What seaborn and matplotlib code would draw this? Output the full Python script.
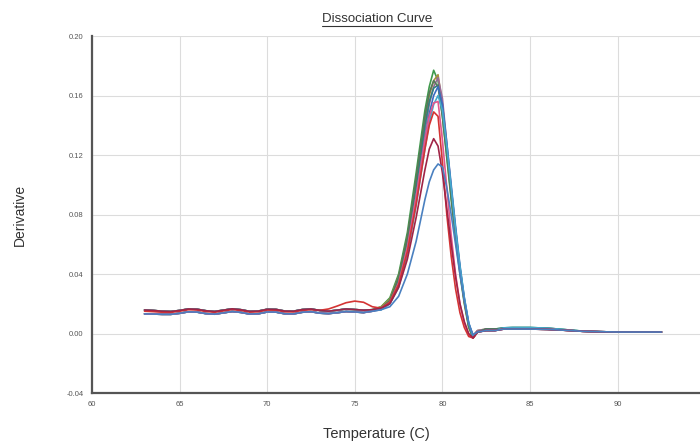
import matplotlib
matplotlib.use("Agg")
import matplotlib.pyplot as plt
import seaborn as sns
import pandas as pd
from matplotlib.lines import Line2D

# baseline region (63-75.5 C)
base_temp = [63, 63.5, 64, 64.5, 65, 65.5, 66, 66.5, 67, 67.5, 68, 68.5, 69,
             69.5, 70, 70.5, 71, 71.5, 72, 72.5, 73, 73.5, 74, 74.5, 75, 75.5]
base_a = [0.0158, 0.0155, 0.0150, 0.0148, 0.0155, 0.0165, 0.0163, 0.0153, 0.0148,
          0.0157, 0.0166, 0.0160, 0.0149, 0.0151, 0.0163, 0.0162, 0.0151, 0.0150,
          0.0161, 0.0165, 0.0155, 0.0150, 0.0157, 0.0165, 0.0161, 0.0157]
base_b = [0.0132, 0.0131, 0.0129, 0.0129, 0.0136, 0.0146, 0.0144, 0.0134, 0.0130,
          0.0139, 0.0148, 0.0142, 0.0131, 0.0133, 0.0145, 0.0144, 0.0133, 0.0132,
          0.0143, 0.0147, 0.0137, 0.0134, 0.0140, 0.0148, 0.0145, 0.0141]
base_red = [0.0150, 0.0147, 0.0143, 0.0142, 0.0150, 0.0160, 0.0158, 0.0148, 0.0143,
            0.0152, 0.0161, 0.0155, 0.0144, 0.0146, 0.0158, 0.0157, 0.0146, 0.0145,
            0.0156, 0.0160, 0.0156, 0.0165, 0.0185, 0.0207, 0.0218, 0.0210]

# melt peak region (76-83 C)
peak_temp = [76, 76.5, 77, 77.5, 78, 78.5, 79, 79.25, 79.5, 79.75, 80, 80.25,
             80.5, 80.75, 81, 81.25, 81.5, 81.75, 82, 82.5, 83]
peaks = {
    "green":  [0.016, 0.018, 0.024, 0.040, 0.068, 0.108, 0.150, 0.166, 0.177, 0.170, 0.146,
               0.118, 0.090, 0.064, 0.040, 0.020, 0.004, -0.003, 0.001, 0.003, 0.003],
    "olive":  [0.016, 0.018, 0.023, 0.038, 0.064, 0.102, 0.144, 0.160, 0.170, 0.174, 0.154,
               0.124, 0.094, 0.066, 0.042, 0.021, 0.005, -0.002, 0.002, 0.003, 0.003],
    "mauve":  [0.016, 0.017, 0.021, 0.034, 0.058, 0.094, 0.136, 0.154, 0.166, 0.172, 0.158,
               0.128, 0.098, 0.070, 0.044, 0.022, 0.006, -0.001, 0.002, 0.003, 0.003],
    "teal":   [0.015, 0.017, 0.022, 0.036, 0.062, 0.099, 0.140, 0.156, 0.165, 0.167, 0.150,
               0.124, 0.096, 0.068, 0.044, 0.023, 0.006, -0.002, 0.001, 0.003, 0.003],
    "dkgreen": [0.016, 0.017, 0.022, 0.038, 0.065, 0.104, 0.146, 0.162, 0.170, 0.166, 0.146,
                0.120, 0.092, 0.066, 0.042, 0.022, 0.005, -0.003, 0.001, 0.003, 0.003],
    "blue":   [0.015, 0.016, 0.020, 0.032, 0.055, 0.090, 0.130, 0.148, 0.160, 0.166, 0.154,
               0.128, 0.100, 0.072, 0.046, 0.024, 0.007, -0.002, 0.001, 0.002, 0.002],
    "cyan":   [0.016, 0.016, 0.020, 0.031, 0.053, 0.086, 0.124, 0.142, 0.154, 0.160, 0.150,
               0.126, 0.098, 0.070, 0.045, 0.024, 0.007, -0.002, 0.001, 0.002, 0.002],
    "pink":   [0.015, 0.017, 0.021, 0.034, 0.058, 0.092, 0.130, 0.146, 0.155, 0.156, 0.130,
               0.098, 0.066, 0.040, 0.020, 0.007, -0.001, -0.003, 0.001, 0.002, 0.002],
    "red":    [0.018, 0.017, 0.021, 0.033, 0.055, 0.087, 0.124, 0.140, 0.149, 0.146, 0.115,
               0.080, 0.052, 0.030, 0.014, 0.004, -0.002, -0.003, 0.001, 0.002, 0.002],
    "maroon": [0.016, 0.017, 0.020, 0.031, 0.050, 0.078, 0.110, 0.124, 0.131, 0.126, 0.108,
               0.084, 0.060, 0.038, 0.020, 0.008, 0.000, -0.003, 0.001, 0.002, 0.002],
    "ltblue": [0.015, 0.016, 0.018, 0.025, 0.040, 0.062, 0.090, 0.102, 0.110, 0.114, 0.112,
               0.098, 0.080, 0.060, 0.040, 0.022, 0.007, -0.001, 0.001, 0.002, 0.002],
}
colors = {
    "green": "#3f9a4c", "olive": "#a8903e", "mauve": "#9a6a98", "teal": "#2f7f7f",
    "dkgreen": "#55785a", "blue": "#3a6cc0", "cyan": "#45a9cc", "pink": "#e2588c",
    "red": "#d43434", "maroon": "#a02446", "ltblue": "#4a80c0",
}
base_of = {"green": base_a, "olive": base_b, "mauve": base_a, "teal": base_b,
           "dkgreen": base_a, "blue": base_b, "cyan": base_a, "pink": base_b,
           "red": base_red, "maroon": base_a, "ltblue": base_b}

# tail after the melt (83.5-92.5 C)
tail_temp = [83.5, 84, 85, 86, 87, 88, 89, 90, 91, 92, 92.5]
tail_a = [0.0030, 0.0030, 0.0030, 0.0028, 0.0022, 0.0015, 0.0012, 0.0010, 0.0010, 0.0010, 0.0010]
tail_b = [0.0038, 0.0040, 0.0040, 0.0036, 0.0026, 0.0016, 0.0012, 0.0010, 0.0010, 0.0010, 0.0010]
tail_of = {"green": tail_b, "teal": tail_b, "cyan": tail_b}

rows = []
for well, pk in peaks.items():
    temps = base_temp + peak_temp + tail_temp
    vals = base_of[well] + pk + tail_of.get(well, tail_a)
    for t, v in zip(temps, vals):
        rows.append({"well": well, "temp": t, "deriv": v})
df = pd.DataFrame(rows)

sns.set_style("white")
plt.rcParams["font.family"] = ["Liberation Sans", "DejaVu Sans"]

fig = plt.figure(figsize=(7, 4.41), dpi=100)
ax = fig.add_axes([0.1314, 0.1088, 0.8686, 0.8095])

sns.lineplot(data=df, x="temp", y="deriv", hue="well", palette=colors,
             estimator=None, sort=False, legend=False, linewidth=1.2, ax=ax)

ax.set_xlim(60, 94.7)
ax.set_ylim(-0.04, 0.20)
ax.set_xticks([60, 65, 70, 75, 80, 85, 90])
ax.set_yticks([-0.04, 0.0, 0.04, 0.08, 0.12, 0.16, 0.20])
ax.set_yticklabels(["-0.04", "0.00", "0.04", "0.08", "0.12", "0.16", "0.20"])
ax.tick_params(length=0, labelsize=5.5, colors="#555555", pad=6)
ax.grid(True, color="#dcdcdc", linewidth=0.8)
ax.set_axisbelow(True)
for s in ["top", "right"]:
    ax.spines[s].set_visible(False)
for s in ["left", "bottom"]:
    ax.spines[s].set_color("#555555")
    ax.spines[s].set_linewidth(1.6)
ax.set_xlabel("")
ax.set_ylabel("")

fig.text(20 / 700, 1 - 215 / 441, "Derivative", rotation=90, ha="center",
         va="center", fontsize=10, color="#333333")
fig.text(376 / 700, 1 - 434 / 441, "Temperature (C)", ha="center",
         va="center", fontsize=10.5, color="#333333")
title = fig.text(377 / 700, 1 - 19 / 441, "Dissociation Curve", ha="center",
                 va="center", fontsize=9.5, color="#333333")

# underline the title
fig.canvas.draw()
bb = title.get_window_extent().transformed(fig.transFigure.inverted())
fig.add_artist(Line2D([bb.x0, bb.x1], [bb.y0 - 0.002, bb.y0 - 0.002],
                      transform=fig.transFigure, color="#333333", linewidth=0.8))

fig.savefig("out.png", dpi=100)
